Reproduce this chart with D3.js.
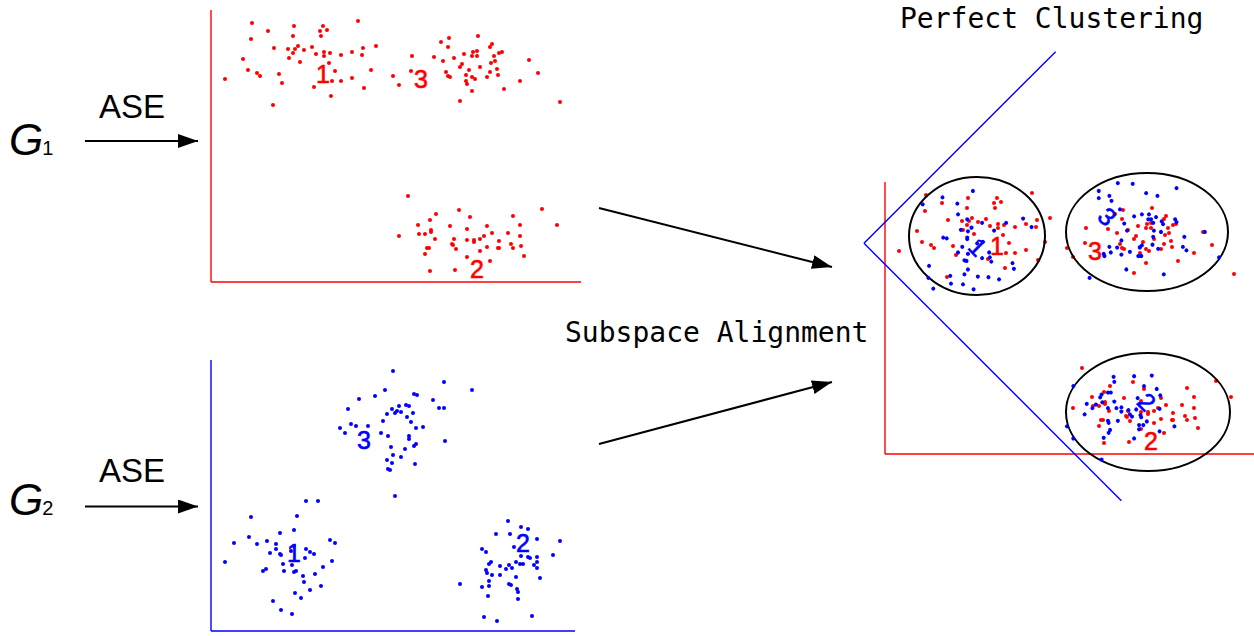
<!DOCTYPE html>
<head>
<meta charset="utf-8">
<title>Subspace Alignment</title>
<style>
body {
  margin: 0;
  background: #fff;
}
.axisLine {
  stroke-width: 1.4;
  fill: none;
}
.arrow {
  stroke: #000;
  stroke-width: 2;
}
.ell {
  fill: none;
  stroke: #000;
  stroke-width: 2;
}
.lab {
  font-family: "Liberation Sans", Arial, sans-serif;
  font-size: 25px;
  stroke-width: 0.6;
}
.mono {
  font-family: "DejaVu Sans Mono", monospace;
  font-size: 28px;
}
</style>
<script src="https://cdn.jsdelivr.net/npm/d3@7"></script>
</head>

<body>
<script>
// ---- data (panel units, origin = bottom-left corner of each plot) ----

// G1 embedding (red)
var g1Cluster1 = [[41,259],[57,251],[83,256],[112,256],[109,251],[116,252],[147,261],[82,246],[110,246],[40,243],
  [63,234],[77,233],[84,233],[87,236],[82,229],[93,232],[101,235],[105,228],[113,230],[113,226],[119,229],[130,227],
  [141,230],[152,234],[151,227],[165,236],[32,223],[78,224],[89,220],[118,219],[37,212],[46,209],[49,206],[68,208],
  [71,199],[124,211],[160,212],[14,203],[121,201],[130,201],[141,204],[103,195],[153,194],[120,186],[62,177],[182,206],[188,197]];
var g1Cluster3 = [[201,226],[200,211],[230,240],[238,244],[237,235],[267,246],[281,238],[279,235],[223,225],[232,221],
  [243,224],[253,228],[262,230],[266,231],[261,226],[266,226],[283,226],[288,229],[291,230],[251,218],[249,215],[280,219],
  [284,221],[269,215],[258,212],[286,213],[279,210],[235,210],[237,206],[239,205],[255,207],[261,205],[264,203],[255,201],
  [256,198],[276,205],[287,207],[261,191],[293,193],[249,181],[309,201],[318,222],[327,209],[349,180]];
var g1Cluster2 = [[197,86],[248,72],[225,68],[259,65],[219,62],[207,57],[239,56],[276,56],[302,66],[309,57],[331,73],
  [346,57],[220,52],[220,50],[256,53],[188,46],[208,48],[214,48],[224,43],[243,43],[256,42],[263,42],[263,40],[269,43],
  [273,46],[281,49],[297,49],[309,46],[288,41],[300,38],[310,36],[241,38],[242,37],[216,34],[218,34],[245,33],[276,35],
  [287,34],[288,34],[302,34],[269,31],[214,28],[313,26],[256,25],[279,21],[219,11],[244,12]];
var g1Labels = [["1",112,208],["3",210,203],["2",266,13]];

// G2 embedding (blue)
var g2Cluster3 = [[182,260],[233,249],[261,241],[174,241],[148,232],[164,235],[203,237],[206,236],[222,231],[137,222],
  [181,222],[188,225],[195,226],[198,225],[228,223],[233,223],[176,217],[184,218],[186,220],[190,219],[202,218],[196,214],
  [172,210],[200,209],[140,207],[145,205],[157,205],[129,203],[134,198],[205,203],[212,204],[170,198],[177,195],[198,195],
  [198,192],[234,190],[205,187],[203,185],[180,184],[194,182],[182,176],[190,174],[176,171],[181,168],[204,167],[177,162],
  [179,161],[184,135]];
var g2Cluster1 = [[95,130],[107,130],[40,114],[86,115],[69,98],[83,101],[38,94],[23,88],[46,87],[56,90],[65,87],[65,82],
  [59,78],[69,77],[70,76],[83,85],[80,80],[95,82],[99,79],[103,77],[94,73],[119,91],[124,88],[121,70],[14,69],[72,67],
  [81,66],[112,64],[55,62],[52,60],[73,60],[83,59],[85,60],[92,55],[104,57],[93,49],[110,45],[99,41],[84,38],[90,33],
  [62,30],[70,21],[81,17]];
var g2Cluster2 = [[297,110],[310,104],[317,102],[285,97],[299,97],[326,92],[349,90],[271,82],[275,79],[303,84],[310,75],
  [317,74],[319,73],[326,74],[342,76],[280,69],[278,67],[289,65],[298,66],[305,69],[309,67],[312,67],[326,69],[323,66],
  [326,63],[295,62],[301,63],[275,61],[276,58],[281,56],[289,56],[305,54],[329,53],[278,50],[249,47],[271,44],[278,45],
  [298,47],[300,46],[306,42],[307,39],[277,35],[307,32],[273,14],[286,10],[321,15]];
var g2Labels = [["1",83,78],["2",312,88],["3",153,191]];

// clusters found after alignment: [cx, cy, rx, ry] in G1 units
var clusterEllipses = [[92,218,68,59],[262,222,81,59],[263,42,82,59]];

// ---- layout ----
var W = 1254, H = 636;
var red = "#ff0000", blue = "#0000ff";

var svg = d3.select("body").append("svg")
    .attr("width", W)
    .attr("height", H);

var defs = svg.append("defs");
defs.append("marker")
    .attr("id", "head")
    .attr("markerUnits", "userSpaceOnUse")
    .attr("viewBox", "0 0 20 14")
    .attr("refX", 20).attr("refY", 7)
    .attr("markerWidth", 20).attr("markerHeight", 14)
    .attr("orient", "auto")
  .append("path")
    .attr("d", "M0,0 L20,7 L0,14 Z")
    .attr("fill", "#000");

// draws one embedding: axes, points, cluster numbers
function drawPanel(g, clusters, labels, color, xLen, yLen) {
  var x = d3.scaleLinear().domain([0, xLen]).range([0, xLen]);
  var y = d3.scaleLinear().domain([0, yLen]).range([0, -yLen]);

  g.append("line").attr("class", "axisLine").attr("stroke", color)
    .attr("x1", x(0)).attr("y1", y(0)).attr("x2", x(0)).attr("y2", y(yLen));
  g.append("line").attr("class", "axisLine").attr("stroke", color)
    .attr("x1", x(0)).attr("y1", y(0)).attr("x2", x(xLen)).attr("y2", y(0));

  clusters.forEach(function(pts) {
    g.selectAll(null)
      .data(pts)
      .enter().append("circle")
      .attr("cx", function(d) { return x(d[0]); })
      .attr("cy", function(d) { return y(d[1]); })
      .attr("r", 2)
      .attr("fill", color);
  });

  g.selectAll(null)
    .data(labels)
    .enter().append("text")
    .attr("class", "lab")
    .attr("x", function(d) { return x(d[1]); })
    .attr("y", function(d) { return y(d[2]); })
    .attr("text-anchor", "middle")
    .attr("dominant-baseline", "central")
    .attr("fill", color)
    .attr("stroke", color)
    .text(function(d) { return d[0]; });
  return {x: x, y: y};
}

var g1 = [g1Cluster1, g1Cluster2, g1Cluster3];
var g2 = [g2Cluster1, g2Cluster2, g2Cluster3];

// left: the two separate embeddings
drawPanel(svg.append("g").attr("transform", "translate(211,282)"), g1, g1Labels, red, 370, 272);
drawPanel(svg.append("g").attr("transform", "translate(211,631)"), g2, g2Labels, blue, 364, 271);

// right: G2 rotated onto G1
var rightRed = svg.append("g").attr("transform", "translate(885,454)");
var sc = drawPanel(rightRed, g1, g1Labels, red, 370, 272);
drawPanel(svg.append("g").attr("transform", "translate(864,243.3) rotate(45)"), g2, g2Labels, blue, 364, 271);

rightRed.selectAll(".ell")
  .data(clusterEllipses)
  .enter().append("ellipse")
  .attr("class", "ell")
  .attr("cx", function(d) { return sc.x(d[0]); })
  .attr("cy", function(d) { return sc.y(d[1]); })
  .attr("rx", function(d) { return d[2]; })
  .attr("ry", function(d) { return d[3]; });

// graph labels + ASE arrows
[["1", 155, 141, 118], ["2", 515, 506.5, 482]].forEach(function(r) {
  var t = svg.append("text")
    .attr("x", 9).attr("y", r[1])
    .style("font-family", "Liberation Sans, Arial, sans-serif");
  t.append("tspan").style("font-size", "44px").style("font-style", "italic").text("G");
  t.append("tspan").style("font-size", "20px").attr("dx", -1).text(r[0]);

  svg.append("text")
    .attr("x", 99).attr("y", r[3])
    .style("font-family", "Liberation Sans, Arial, sans-serif")
    .style("font-size", "33px")
    .text("ASE");

  svg.append("line").attr("class", "arrow")
    .attr("x1", 85).attr("y1", r[2]).attr("x2", 198).attr("y2", r[2])
    .attr("marker-end", "url(#head)");
});

// alignment arrows
[[599, 208, 832, 267], [599, 444, 832, 382]].forEach(function(a) {
  svg.append("line").attr("class", "arrow")
    .attr("x1", a[0]).attr("y1", a[1]).attr("x2", a[2]).attr("y2", a[3])
    .attr("marker-end", "url(#head)");
});

svg.append("text").attr("class", "mono")
  .attr("x", 565).attr("y", 342)
  .text("Subspace Alignment");

svg.append("text").attr("class", "mono")
  .attr("x", 900).attr("y", 28)
  .text("Perfect Clustering");
</script>
</body>
